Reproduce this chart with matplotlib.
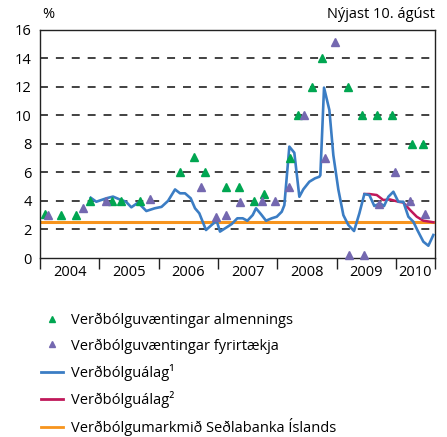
import matplotlib.pyplot as plt
from matplotlib.lines import Line2D

plt.rcParams['font.family'] = ['Open Sans', 'DejaVu Sans']

# Verðbólguálag 1 (decimal year, %)
be1_t = [2004.855, 2004.949, 2005.118, 2005.231, 2005.344, 2005.450, 2005.540, 2005.653,
         2005.793, 2005.934, 2006.049, 2006.159, 2006.277, 2006.361, 2006.445, 2006.541,
         2006.614, 2006.686, 2006.799, 2006.912, 2006.980, 2007.035, 2007.148, 2007.233,
         2007.327, 2007.418, 2007.496, 2007.587, 2007.642, 2007.727, 2007.811, 2007.907,
         2007.992, 2008.076, 2008.120, 2008.204, 2008.288, 2008.373, 2008.440, 2008.541,
         2008.637, 2008.710, 2008.727, 2008.789, 2008.879, 2008.946, 2009.030, 2009.115,
         2009.199, 2009.295, 2009.385, 2009.469, 2009.553, 2009.637, 2009.734, 2009.801,
         2009.874, 2009.958, 2010.042, 2010.126, 2010.211, 2010.295, 2010.362, 2010.464,
         2010.548, 2010.632]
be1_v = [4.22, 3.94, 4.18, 4.30, 4.10, 3.94, 3.55, 3.88,
         3.29, 3.48, 3.58, 4.00, 4.80, 4.53, 4.53, 4.18,
         3.48, 3.13, 1.96, 2.38, 2.59, 1.85, 2.15, 2.38,
         2.78, 2.78, 2.61, 3.01, 3.48, 3.06, 2.61, 2.78,
         2.89, 3.24, 3.70, 7.80, 7.37, 4.29, 4.81, 5.34,
         5.58, 5.69, 5.80, 11.93, 10.36, 7.20, 4.80, 3.00,
         2.31, 1.89, 3.13, 4.48, 4.41, 3.64, 3.83, 3.64,
         4.29, 4.64, 3.94, 3.94, 2.89, 2.54, 1.96, 1.14,
         0.86, 1.61]

# Verðbólguálag 2
be2_t = [2009.469, 2009.553, 2009.678, 2009.789, 2009.902, 2010.042, 2010.126, 2010.240,
         2010.352, 2010.464, 2010.577, 2010.632]
be2_v = [4.48, 4.48, 4.41, 4.06, 4.10, 3.94, 3.88, 3.36,
         2.89, 2.61, 2.54, 2.50]

# Verðbólguvæntingar almennings
pub_t = [2004.09, 2004.35, 2004.61, 2004.85, 2005.21, 2005.36, 2005.69, 2006.36,
         2006.60, 2006.78, 2007.13, 2007.36, 2007.60, 2007.78, 2008.22, 2008.35,
         2008.59, 2008.76, 2009.19, 2009.43, 2009.68, 2009.93, 2010.27, 2010.45]
pub_v = [3.1, 3.0, 3.0, 4.0, 4.0, 4.0, 4.0, 6.0,
         7.1, 6.0, 5.0, 5.0, 4.0, 4.5, 7.0, 10.0,
         12.0, 14.0, 12.0, 10.0, 10.0, 10.0, 8.0, 8.0]

# Verðbólguvæntingar fyrirtækja
firm_t = [2004.13, 2004.72, 2005.12, 2005.86, 2006.71, 2006.97, 2007.14, 2007.38,
          2007.74, 2007.97, 2008.19, 2008.45, 2008.81, 2008.97, 2009.21, 2009.47,
          2009.72, 2009.99, 2010.24, 2010.49]
firm_v = [3.0, 3.5, 4.0, 4.1, 5.0, 2.9, 3.0, 3.9,
          4.0, 4.0, 5.0, 10.0, 7.0, 15.1, 0.2, 0.2,
          3.8, 6.0, 4.0, 3.1]

target = 2.5
years = [2004, 2005, 2006, 2007, 2008, 2009, 2010]
x_end = 2010.66

labels = ["Verðbólguvæntingar almennings", "Verðbólguvæntingar fyrirtækja",
          "Verðbólguálag¹", "Verðbólguálag²", "Verðbólgumarkmið Seðlabanka Íslands"]

green = "#00a651"
purple = "#7468b0"
blue = "#3b7dc4"
red = "#c0185a"
orange = "#f7941d"

fig = plt.figure(figsize=(4.47, 4.37), dpi=100)
ax = fig.add_axes([40 / 447, 1 - 258 / 437, 395 / 447, 228.5 / 437])

for g in range(2, 16, 2):
    ax.axhline(g, color="#333333", lw=1.3, dashes=(4.4, 4.4), zorder=1)

ax.axhline(target, color=orange, lw=2.2, zorder=2)
ax.plot(be2_t, be2_v, color=red, lw=1.8, zorder=3)
ax.plot(be1_t, be1_v, color=blue, lw=1.9, zorder=4)
ax.plot(pub_t, pub_v, ls="none", marker="^", ms=6, color=green, zorder=5, clip_on=False)
ax.plot(firm_t, firm_v, ls="none", marker="^", ms=6, color=purple, zorder=5, clip_on=False)

ax.set_xlim(2004, x_end)
ax.set_ylim(0, 16)
ax.set_yticks(range(0, 17, 2))
ax.tick_params(axis="y", length=0, labelsize=10.5, pad=6)

ax.set_xticks(years + [x_end])
ax.set_xticklabels([])
ax.set_xticks([y + 0.5 for y in years[:-1]] + [2010.33], minor=True)
ax.set_xticklabels([str(y) for y in years], minor=True)
ax.tick_params(axis="x", which="major", direction="out", length=8, width=1, color="#222222")
ax.tick_params(axis="x", which="minor", length=0, labelsize=10.5, pad=5)

for s in ax.spines.values():
    s.set_linewidth(1)
    s.set_color("#222222")

fig.text(42 / 447, 1 - 15 / 437, "%", fontsize=10.5, ha="left", va="center")
fig.text(435 / 447, 1 - 15 / 437, "Nýjast 10. ágúst", fontsize=10.5, ha="right", va="center")

handles = [
    Line2D([], [], ls="none", marker="^", ms=5, color=green),
    Line2D([], [], ls="none", marker="^", ms=5, color=purple),
    Line2D([], [], color=blue, lw=2),
    Line2D([], [], color=red, lw=2),
    Line2D([], [], color=orange, lw=2),
]
fig.legend(handles, labels, loc="upper left", bbox_to_anchor=(35 / 447, 1 - 307 / 437),
           frameon=False, fontsize=10.5, handlelength=1.5, handletextpad=0.6,
           labelspacing=0.7, borderaxespad=0)

fig.savefig("out.png", dpi=100)
